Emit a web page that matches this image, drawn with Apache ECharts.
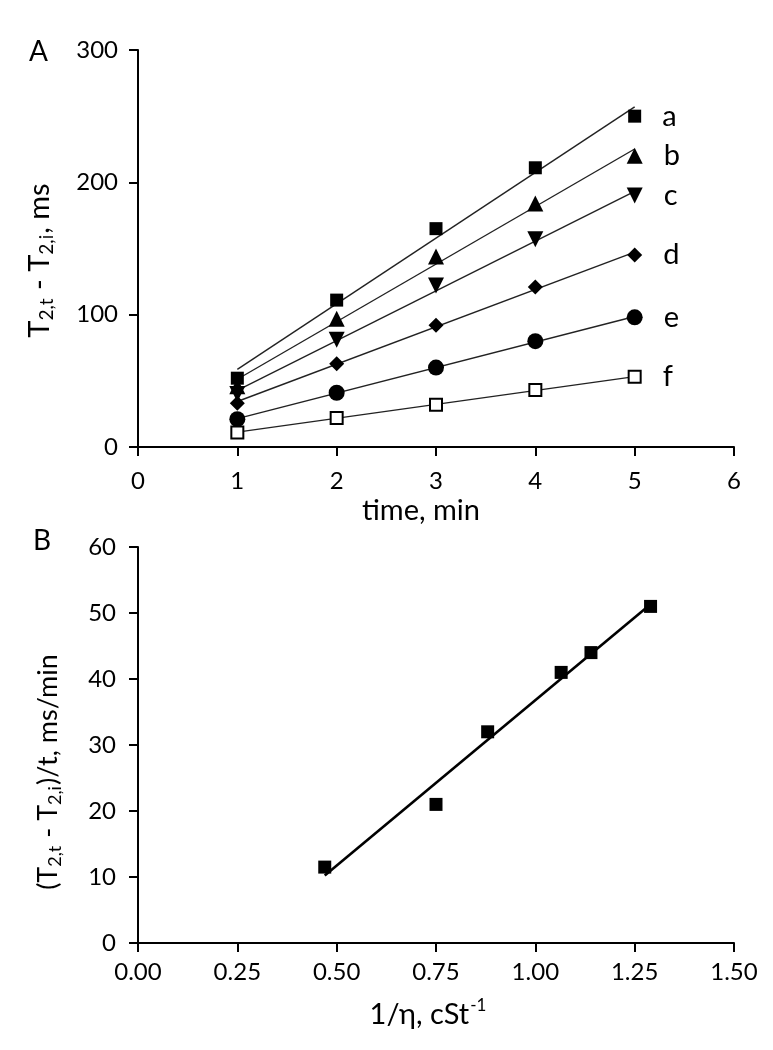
<!DOCTYPE html>
<html>
<head>
<meta charset="utf-8">
<script src="https://cdn.jsdelivr.net/npm/echarts@6/dist/echarts.min.js"></script>
<style>html,body{margin:0;padding:0;background:#fff}#c{width:773px;height:1050px}</style>
</head>
<body>
<div id="c"></div>
<script>
// Panel A data
var timeMin = [1, 2, 3, 4, 5];
var seriesA = [52, 111, 165, 211, 250];
var seriesB = [46, 97, 144, 184, 220];
var seriesC = [40, 81, 122, 157, 190];
var seriesD = [33, 63, 92, 121, 145];
var seriesE = [21, 41, 60, 80, 98];
var seriesF = [11, 22, 32, 43, 53];
var curveLabels = ['a', 'b', 'c', 'd', 'e', 'f'];
var yTicksA = [0, 100, 200, 300];
var xTicksA = [0, 1, 2, 3, 4, 5, 6];
// Panel B data
var invVisc = [0.47, 0.75, 0.88, 1.065, 1.14, 1.29];
var rate = [11.5, 21, 32, 41, 44, 51];
var yTicksB = [0, 10, 20, 30, 40, 50, 60];
var xTicksB = [0, 0.25, 0.5, 0.75, 1.0, 1.25, 1.5];

function fit(xs, ys) {
  var n = xs.length, mx = 0, my = 0;
  for (var i = 0; i < n; i++) { mx += xs[i]; my += ys[i]; }
  mx /= n; my /= n;
  var sxy = 0, sxx = 0;
  for (var j = 0; j < n; j++) { sxy += (xs[j]-mx)*(ys[j]-my); sxx += (xs[j]-mx)*(xs[j]-mx); }
  var b = sxy / sxx, a = my - b * mx;
  var x0 = Math.min.apply(null, xs), x1 = Math.max.apply(null, xs);
  return [[x0, a + b * x0], [x1, a + b * x1]];
}
function pairs(xs, ys) { return xs.map(function (x, i) { return [x, ys[i]]; }); }

var FONT = 'Lato';
var INK = '#000';
var allA = [seriesA, seriesB, seriesC, seriesD, seriesE, seriesF];
var symbols = [
  {symbol: 'rect', size: 13, rot: 0, fill: '#000'},
  {symbol: 'triangle', size: 16, rot: 0, fill: '#000'},
  {symbol: 'triangle', size: 16, rot: 180, fill: '#000'},
  {symbol: 'diamond', size: 15, rot: 0, fill: '#000'},
  {symbol: 'circle', size: 16, rot: 0, fill: '#000'},
  {symbol: 'rect', size: 12, rot: 0, fill: '#fff'}
];

var series = [];
allA.forEach(function (ys) {
  series.push({
    type: 'line', xAxisIndex: 0, yAxisIndex: 0, data: fit(timeMin, ys),
    showSymbol: false, symbol: 'none', silent: true,
    lineStyle: {color: '#222', width: 1.4}, z: 2
  });
});
allA.forEach(function (ys, k) {
  var s = symbols[k];
  series.push({
    type: 'scatter', xAxisIndex: 0, yAxisIndex: 0, data: pairs(timeMin, ys),
    symbol: s.symbol, symbolSize: s.size, symbolRotate: s.rot,
    itemStyle: {color: s.fill, borderColor: '#000', borderWidth: k === 5 ? 2 : 0, opacity: 1},
    label: {
      show: true, position: 'right', distance: 21,
      fontFamily: FONT, fontSize: 29, color: INK,
      formatter: function (p) { return p.dataIndex === ys.length - 1 ? curveLabels[k] : ''; }
    },
    z: 3
  });
});
series.push({
  type: 'line', xAxisIndex: 1, yAxisIndex: 1, data: fit(invVisc, rate),
  showSymbol: false, symbol: 'none', silent: true,
  lineStyle: {color: '#000', width: 2.6}, z: 2
});
series.push({
  type: 'scatter', xAxisIndex: 1, yAxisIndex: 1, data: pairs(invVisc, rate),
  symbol: 'rect', symbolSize: 13, itemStyle: {color: '#000', opacity: 1}, z: 3
});

function axisBase(labelMargin, extraLabel) {
  return {
    axisLine: {show: true, onZero: false, lineStyle: {color: '#000', width: 2}},
    axisTick: {show: true, inside: false, length: 9, lineStyle: {color: '#000', width: 2}},
    splitLine: {show: false},
    axisLabel: Object.assign({fontFamily: FONT, fontSize: 24, color: INK, margin: labelMargin}, extraLabel || {})
  };
}
function merge(a, b) { return Object.assign({}, a, b); }

var subRich = function (size) {
  return {
    n: {fontFamily: FONT, fontSize: size, color: INK, lineHeight: size + 8},
    s: {fontFamily: FONT, fontSize: Math.round(size * 0.66), color: INK, padding: [14, 1, 0, 0]}
  };
};

var option = {
  animation: false,
  backgroundColor: '#fff',
  grid: [
    {left: 138, right: 39, top: 50, height: 397},
    {left: 138, right: 39, top: 547, height: 396}
  ],
  xAxis: [
    merge(axisBase(22), {
      type: 'value', gridIndex: 0, min: xTicksA[0], max: xTicksA[xTicksA.length-1], interval: 1,
      name: 'time, min', nameLocation: 'middle', nameGap: 49,
      nameTextStyle: {fontFamily: FONT, fontSize: 29, color: INK, padding: [0, 30, 0, 0]}
    }),
    merge(axisBase(17, {formatter: function (v) { return v.toFixed(2); }}), {
      type: 'value', gridIndex: 1, min: xTicksB[0], max: xTicksB[xTicksB.length-1], interval: 0.25,
      name: '{n|1/η, cSt}{sup|-1}', nameLocation: 'middle', nameGap: 54,
      nameTextStyle: {fontFamily: FONT, fontSize: 29, color: INK, padding: [0, 16, 0, 0],
        rich: {n: {fontFamily: FONT, fontSize: 29, color: INK, lineHeight: 36},
               sup: {fontFamily: FONT, fontSize: 17, color: INK, padding: [0, 0, 18, 1]}}}
    })
  ],
  yAxis: [
    merge(axisBase(20), {
      type: 'value', gridIndex: 0, min: yTicksA[0], max: yTicksA[yTicksA.length-1], interval: 100,
      name: '{n|T}{s|2,t}{n| - T}{s|2,i}{n|, ms}', nameLocation: 'middle', nameGap: 80, nameRotate: 90,
      nameTextStyle: {fontFamily: FONT, fontSize: 29, color: INK, padding: [0, 24, 0, 0], rich: subRich(29)}
    }),
    merge(axisBase(22), {
      type: 'value', gridIndex: 1, min: yTicksB[0], max: yTicksB[yTicksB.length-1], interval: 10,
      name: '{n|(T}{s|2,t}{n| - T}{s|2,i}{n|)/t, ms/min}', nameLocation: 'middle', nameGap: 72, nameRotate: 90,
      nameTextStyle: {fontFamily: FONT, fontSize: 27, color: INK, padding: [0, 54, 0, 0], rich: subRich(27)}
    })
  ],
  graphic: [
    {type: 'text', left: 29, top: 38, style: {text: 'A', fontFamily: FONT, fontSize: 28, fill: INK}},
    {type: 'text', left: 33, top: 527, style: {text: 'B', fontFamily: FONT, fontSize: 28, fill: INK}}
  ],
  series: series
};
var chart = echarts.init(document.getElementById('c'), null, {renderer: 'canvas'});
chart.setOption(option);
</script>
</body>
</html>
